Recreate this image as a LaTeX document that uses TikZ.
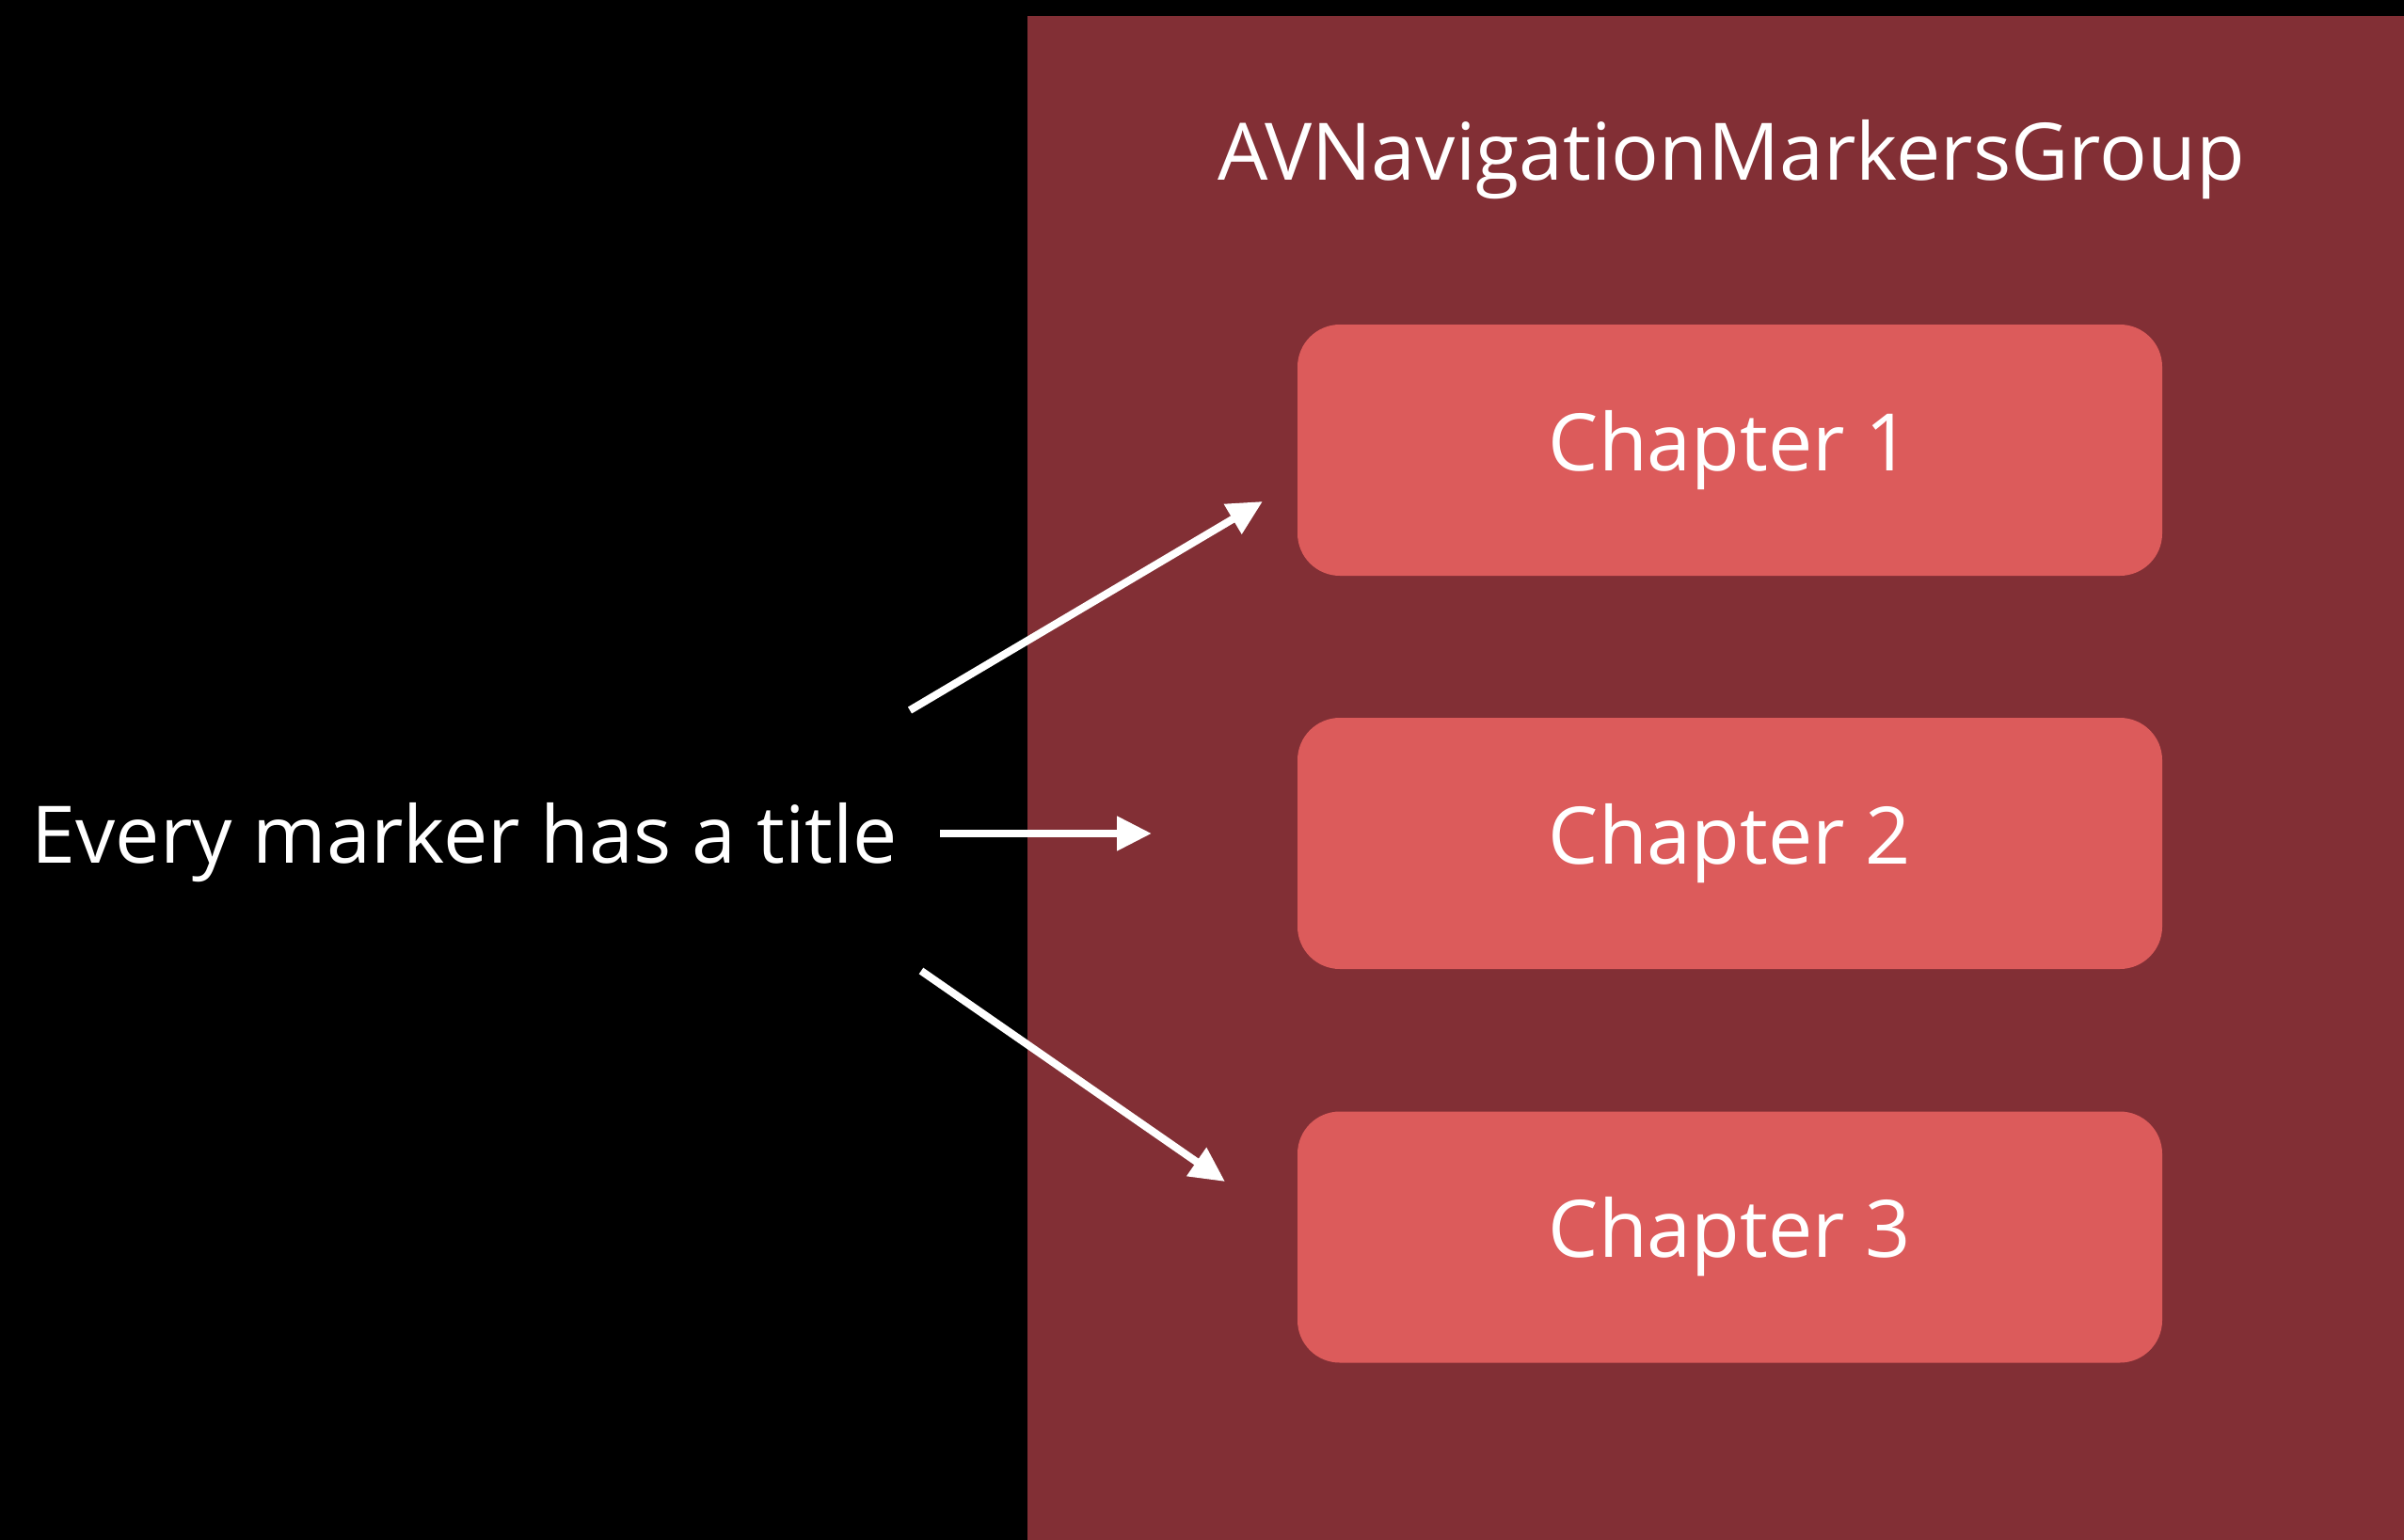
\documentclass[tikz,border=0pt]{standalone}
\usepackage{fontspec}
\setmainfont{Open Sans}
\usetikzlibrary{arrows.meta}
\definecolor{groupred}{HTML}{822F35}
\definecolor{chapred}{HTML}{DC5B5B}
\tikzset{
  chapbox/.style={fill=chapred, rounded corners=0.45cm, minimum width=9.19cm, minimum height=2.67cm, text=white, font=\fontsize{24}{28}\selectfont},
  markarrow/.style={draw=white, line width=2.3pt, -{Triangle[length=3.7mm,width=3.5mm]}}
}
\begin{document}
\begin{tikzpicture}[font=\fontsize{24}{28}\selectfont]
			\useasboundingbox (0,0) rectangle (25.55,-16.37);
			\fill[black] (0,0) rectangle (25.55,-16.37);
			\fill[groupred] (10.92,-0.17) rectangle (25.55,-16.37);
			\node[anchor=base, text=white] (group) at (18.40,-1.92) {AVNavigationMarkersGroup};
			\node[chapbox] (ch1) at (18.385,-4.785) {Chapter 1};
			\node[chapbox] (ch2) at (18.385,-8.965) {Chapter 2};
			\node[chapbox] (ch3) at (18.385,-13.15) {Chapter 3};
			\node[anchor=base, text=white] (marker) at (4.94,-9.17) {Every marker has a title};
			% arrow ends
			\coordinate (a1) at (9.67,-7.55);
			\coordinate (b1) at (13.42,-5.33);
			\coordinate (a2) at (9.99,-8.86);
			\coordinate (b2) at (12.24,-8.86);
			\coordinate (a3) at (9.79,-10.32);
			\coordinate (b3) at (13.02,-12.56);
			\draw[markarrow] (a1)--(b1);
			\draw[markarrow] (a2)--(b2);
			\draw[markarrow] (a3)--(b3);
		\end{tikzpicture}
\end{document}
